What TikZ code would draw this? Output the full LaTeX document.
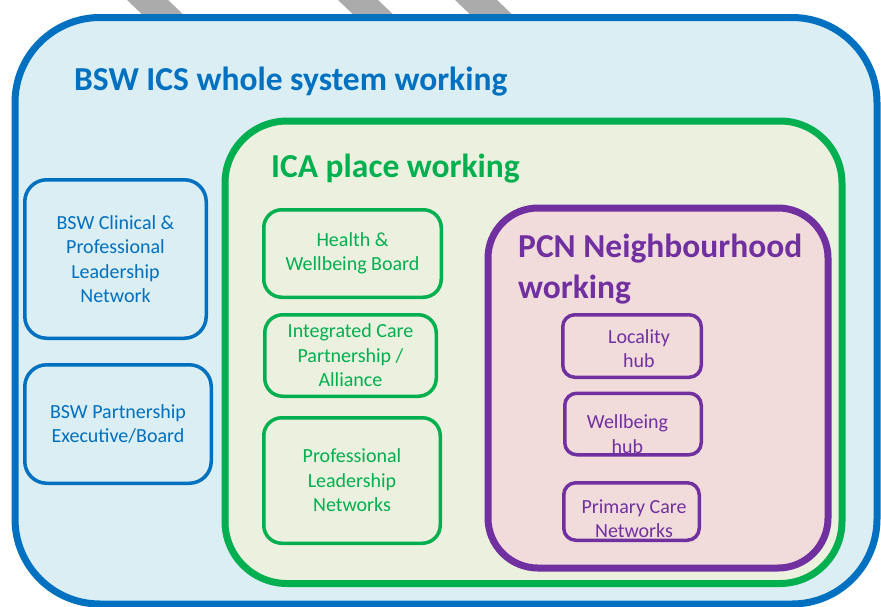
\documentclass[tikz,border=0pt]{standalone}
\usepackage{fontspec}
\setmainfont{Carlito}
\usetikzlibrary{positioning}

\definecolor{icsblue}{HTML}{0070C0}
\definecolor{icsfill}{HTML}{DAEEF3}
\definecolor{icagreen}{HTML}{00B050}
\definecolor{icafill}{HTML}{EBF1DE}
\definecolor{pcnpurple}{HTML}{7030A0}
\definecolor{pcnfill}{HTML}{F2DCDB}
\definecolor{stripegrey}{HTML}{ABABAB}

\newcommand{\titlefont}{\fontsize{33.5}{41}\selectfont\bfseries}
\newcommand{\boxfont}{\fontsize{20}{24.5}\selectfont}

\begin{document}
\begin{tikzpicture}[x=1pt,y=-1pt,node distance=20pt,
	level box/.style={line width=7pt,rounded corners=#1},
	title/.style={anchor=base west,inner sep=0pt,align=left,font=\titlefont},
	ics node/.style={draw=icsblue,text=icsblue,line width=3.5pt,rounded corners=22pt,
		inner sep=0pt,align=center,font=\boxfont},
	ica node/.style={draw=icagreen,text=icagreen,line width=3.5pt,rounded corners=18pt,
		inner sep=0pt,align=center,font=\boxfont},
	pcn node/.style={draw=pcnpurple,line width=3.5pt,rounded corners=12pt,inner sep=0pt},
	pcn text/.style={text=pcnpurple,inner sep=0pt,align=center,font=\boxfont}]
	
	\useasboundingbox (0,0) rectangle (881,606);
	
	% grey bars behind the top edge
	\foreach \x/\w in {127/41,338/40,455/42}
		\fill[stripegrey] (\x,0) -- ++(\w,0) -- ++(21,20) -- ++(-\w,0) -- cycle;
	
	% the three levels
	\draw[level box=85pt,draw=icsblue,fill=icsfill] (15,17.5) rectangle (877,604);
	\draw[level box=62pt,draw=icagreen,fill=icafill] (225,121) rectangle (842,583.5);
	\draw[level box=50pt,draw=pcnpurple,fill=pcnfill] (488,208) rectangle (828,568);
	
	\node[title,text=icsblue] (icstitle) at (74,90) {BSW ICS whole system working};
	\node[title,text=icagreen] (icatitle) at (271,177) {ICA place working};
	\node[title,text=pcnpurple] (pcntitle) at (518,298) {PCN Neighbourhood\\working};
	
	% system
	\node[ics node,minimum width=181.5pt,minimum height=158.5pt] (clin) at (115.5,259)
		{BSW Clinical \&\\Professional\\Leadership\\Network};
	\node[ics node,minimum width=186.5pt,minimum height=118.5pt] (exec) [below=23pt of clin,xshift=2.5pt]
		{BSW Partnership\\Executive/Board};
	
	% place
	\node[ica node,minimum width=177.5pt,minimum height=87.5pt] (hwb) at (352.5,253.5)
		{Health \&\\Wellbeing Board};
	\node[ica node,minimum width=171.5pt,minimum height=81.5pt] (icp) [below=14pt of hwb,xshift=-2pt]
		{Integrated Care\\Partnership /\\Alliance};
	\node[ica node,minimum width=176.5pt,minimum height=125.5pt] (pln) [below=18pt of icp,xshift=1.5pt]
		{Professional\\Leadership\\Networks};
	
	% neighbourhood
	\node[pcn node,minimum width=138.5pt,minimum height=62.5pt] (loc) at (632,346) {};
	\node[pcn node,minimum width=136.5pt,minimum height=61.5pt] (wb) [below=12.5pt of loc,xshift=1pt] {};
	\node[pcn node,minimum width=135.5pt,minimum height=57.5pt] (pcn) [below=24.5pt of wb,xshift=-1.5pt] {};
	\node[pcn text] (loctext) at ([shift={(7,2.5)}]loc.center) {Locality\\hub};
	\node[pcn text] (wbtext) at ([shift={(-5.5,10)}]wb.center) {Wellbeing\\hub};
	\node[pcn text] (pcntext) at ([shift={(2.5,7)}]pcn.center) {Primary Care\\Networks};
\end{tikzpicture}
\end{document}
